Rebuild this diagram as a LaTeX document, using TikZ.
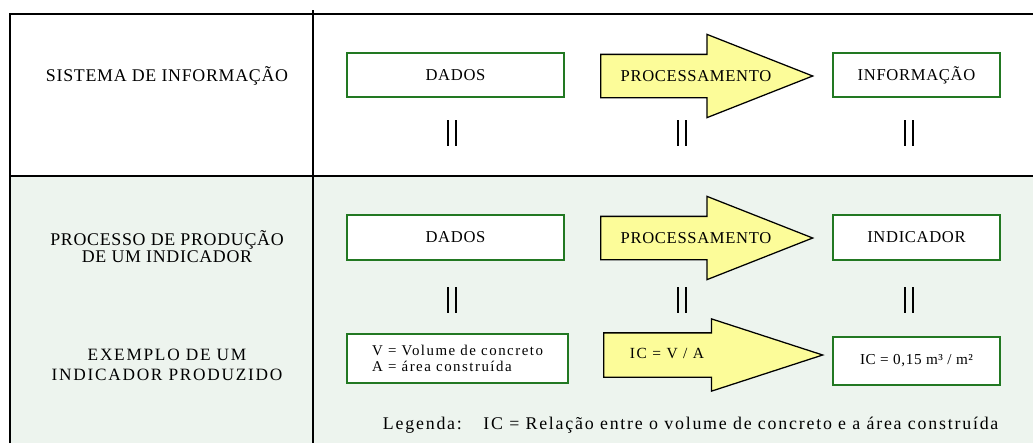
\documentclass[tikz,border=0pt]{standalone}
\usepackage{fontspec}
\setmainfont{Liberation Serif}
\newfontfamily\largo[LetterSpace=10]{Liberation Serif}
\newfontfamily\apertado[LetterSpace=4]{Liberation Serif}
\usetikzlibrary{shapes.arrows}
\definecolor{verdecaixa}{RGB}{34,120,34}
\definecolor{fundoverde}{RGB}{237,244,238}
\definecolor{amarelo}{RGB}{252,252,153}

\begin{document}
\begin{tikzpicture}[x=0.025cm, y=-0.025cm]
\tikzset{caixa/.style={draw=verdecaixa, line width=1.2pt, fill=white, minimum width=5.425cm, minimum height=1.1cm, inner sep=0pt, font=\apertado\fontsize{11.8}{13}\selectfont},
  seta/.style={single arrow, draw, fill=amarelo, line width=0.9pt, anchor=tail, single arrow head indent=0pt, inner xsep=0pt, inner ysep=0.525cm, minimum height=5.3cm, single arrow head extend=0.5cm, single arrow tip angle=43},
  rotulo/.style={align=center, font=\apertado\fontsize{12.7}{11.4}\selectfont},
  textoseta/.style={font=\apertado\fontsize{11.8}{13}\selectfont},
  igual/.style={line width=1.2pt},
  tabela/.style={line width=1.2pt}}
\useasboundingbox (0,0) rectangle (1033,443);
% fundo e linhas da tabela
\fill[fundoverde] (10,176) rectangle (1033,443);
\draw[tabela] (10,443) -- (10,14) -- (1033,14);
\draw[tabela] (10,176) -- (1033,176);
\draw[tabela] (313,10) -- (313,443);
% rotulos das linhas
\node[rotulo] (sis) at (167,76) {SISTEMA DE INFORMAÇÃO};
\node[rotulo, font=\apertado\fontsize{12.7}{12}\selectfont] (prod) at (167,247) {PROCESSO DE PRODUÇÃO\\DE UM INDICADOR};
\node[rotulo, font=\largo\fontsize{12.3}{14.2}\selectfont] (exem) at (167,365) {EXEMPLO DE UM\\INDICADOR PRODUZIDO};
% linha 1
\node[caixa] (dados1) at (455.5,75) {DADOS};
\node[seta] (seta1) at (600,76) {};
\node[textoseta] (proc1) at (696,76) {PROCESSAMENTO};
\node[caixa, minimum width=4.175cm] (info1) at (916.5,75) {INFORMAÇÃO};
\draw[igual] (448,120) -- (448,146) (456,120) -- (456,146);
\draw[igual] (678,120) -- (678,146) (686,120) -- (686,146);
\draw[igual] (905,120) -- (905,146) (913,120) -- (913,146);
% linha 2
\node[caixa, minimum height=1.125cm] (dados2) at (455.5,237.5) {DADOS};
\node[seta] (seta2) at (600,238) {};
\node[textoseta] (proc2) at (696,238) {PROCESSAMENTO};
\node[caixa, minimum width=4.175cm, minimum height=1.125cm] (indic2) at (916.5,237.5) {INDICADOR};
\draw[igual] (448,287) -- (448,313) (456,287) -- (456,313);
\draw[igual] (678,287) -- (678,313) (686,287) -- (686,313);
\draw[igual] (905,287) -- (905,313) (913,287) -- (913,313);
% linha 3
\node[caixa, minimum width=5.525cm, minimum height=1.225cm, align=left, font=\largo\fontsize{10.6}{11.4}\selectfont] (vol) at (457.5,358.5) {V = Volume de concreto\\A = área construída};
\node[seta, minimum height=5.475cm, inner ysep=0.5375cm, single arrow head extend=0.35cm, single arrow tip angle=36] (seta3) at (603,355) {};
\node[font=\largo\fontsize{11}{12}\selectfont] (calc) at (667,353) {IC = V / A};
\node[caixa, minimum width=4.175cm, minimum height=1.2cm, font=\apertado\fontsize{10.8}{12}\selectfont] (ic) at (916.5,361) {IC = 0,15 m³ / m²};
% legenda
\node[anchor=west, font=\largo\fontsize{12.7}{14}\selectfont] (leg) at (378,425) {Legenda:\hspace{1.2em}IC = Relação entre o volume de concreto e a área construída};
\end{tikzpicture}
\end{document}
